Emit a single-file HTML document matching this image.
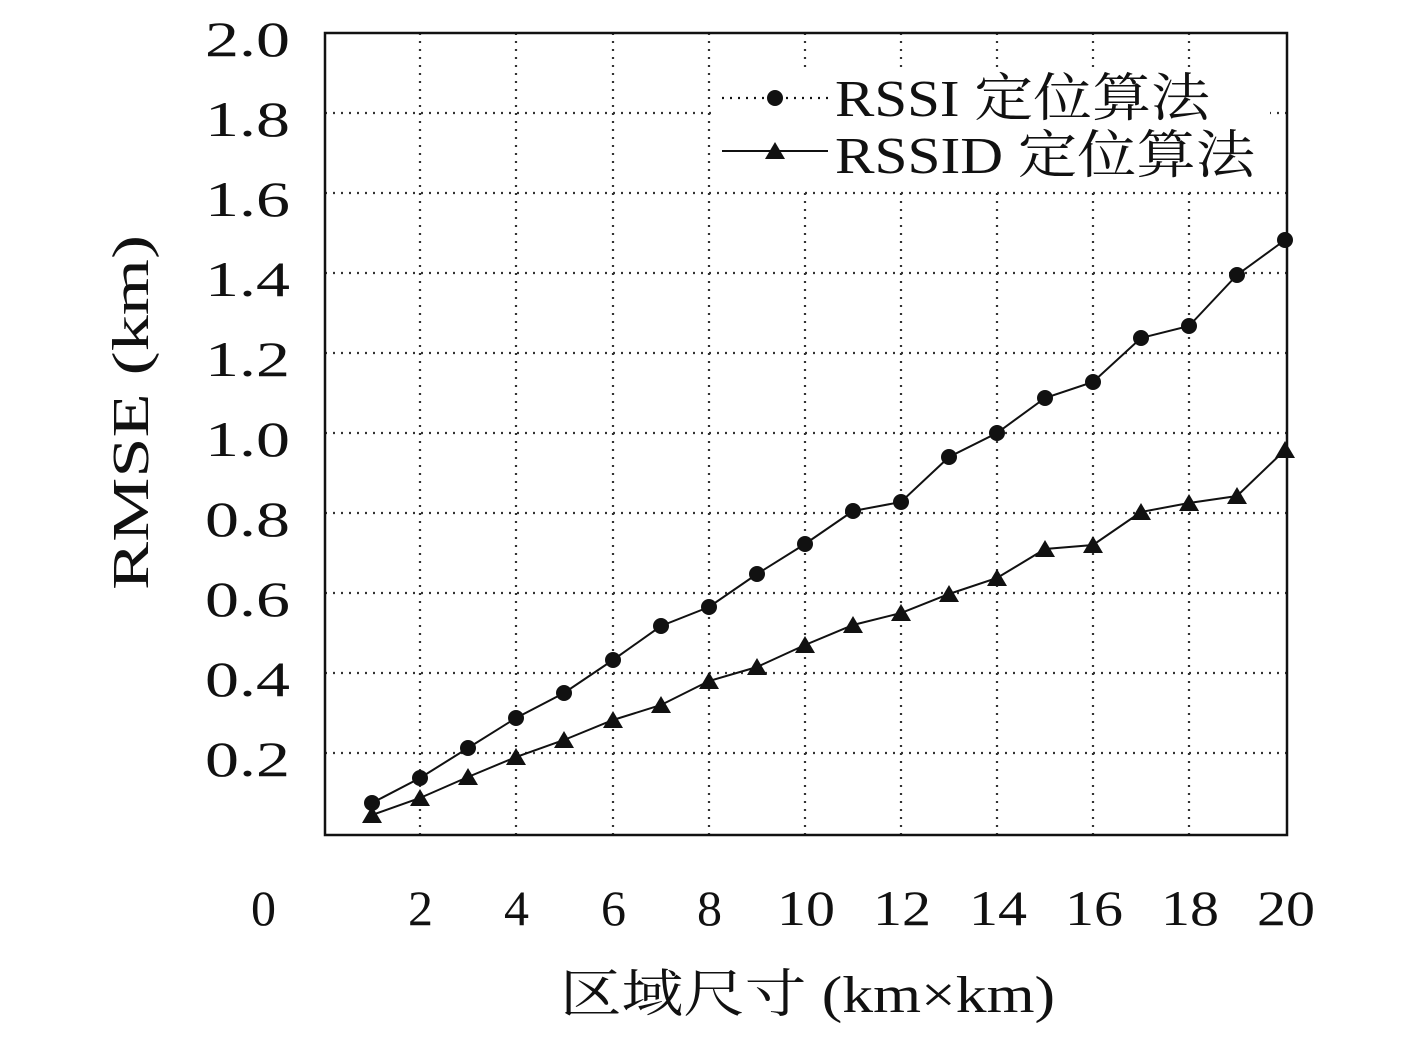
<!DOCTYPE html>
<html><head><meta charset="utf-8"><style>
html,body{margin:0;padding:0;background:#fff;}
svg text{font-family:"Liberation Serif","Noto Serif CJK SC",serif;fill:#111;}
</style></head><body>
<svg width="1417" height="1039" viewBox="0 0 1417 1039" xmlns="http://www.w3.org/2000/svg">
<g stroke="#333" stroke-width="2.2" stroke-dasharray="2,6" fill="none">
<line x1="325" y1="113" x2="1287" y2="113"/>
<line x1="325" y1="193" x2="1287" y2="193"/>
<line x1="325" y1="273" x2="1287" y2="273"/>
<line x1="325" y1="353" x2="1287" y2="353"/>
<line x1="325" y1="433" x2="1287" y2="433"/>
<line x1="325" y1="513" x2="1287" y2="513"/>
<line x1="325" y1="593" x2="1287" y2="593"/>
<line x1="325" y1="673" x2="1287" y2="673"/>
<line x1="325" y1="753" x2="1287" y2="753"/>
<line x1="420" y1="33" x2="420" y2="835"/>
<line x1="516" y1="33" x2="516" y2="835"/>
<line x1="613" y1="33" x2="613" y2="835"/>
<line x1="709" y1="33" x2="709" y2="835"/>
<line x1="805" y1="33" x2="805" y2="835"/>
<line x1="901" y1="33" x2="901" y2="835"/>
<line x1="997" y1="33" x2="997" y2="835"/>
<line x1="1093" y1="33" x2="1093" y2="835"/>
<line x1="1189" y1="33" x2="1189" y2="835"/>
</g>
<rect x="325" y="33" width="962" height="802" fill="none" stroke="#111" stroke-width="2.5"/>
<g font-size="50" lengthAdjust="spacingAndGlyphs">
<text x="205" y="56" textLength="85" lengthAdjust="spacingAndGlyphs">2.0</text><text x="205" y="136" textLength="85" lengthAdjust="spacingAndGlyphs">1.8</text><text x="205" y="216" textLength="85" lengthAdjust="spacingAndGlyphs">1.6</text>
<text x="205" y="296" textLength="85" lengthAdjust="spacingAndGlyphs">1.4</text><text x="205" y="376" textLength="85" lengthAdjust="spacingAndGlyphs">1.2</text><text x="205" y="456" textLength="85" lengthAdjust="spacingAndGlyphs">1.0</text>
<text x="205" y="536" textLength="85" lengthAdjust="spacingAndGlyphs">0.8</text><text x="205" y="616" textLength="85" lengthAdjust="spacingAndGlyphs">0.6</text><text x="205" y="696" textLength="85" lengthAdjust="spacingAndGlyphs">0.4</text>
<text x="205" y="776" textLength="85" lengthAdjust="spacingAndGlyphs">0.2</text>
</g>
<g font-size="50">
<text x="251" y="925" textLength="25" lengthAdjust="spacingAndGlyphs">0</text><text x="408" y="925" textLength="25" lengthAdjust="spacingAndGlyphs">2</text><text x="504" y="925" textLength="25" lengthAdjust="spacingAndGlyphs">4</text>
<text x="601" y="925" textLength="25" lengthAdjust="spacingAndGlyphs">6</text><text x="697" y="925" textLength="25" lengthAdjust="spacingAndGlyphs">8</text>
<text x="777" y="925" textLength="58" lengthAdjust="spacingAndGlyphs">10</text><text x="873" y="925" textLength="58" lengthAdjust="spacingAndGlyphs">12</text><text x="969" y="925" textLength="58" lengthAdjust="spacingAndGlyphs">14</text>
<text x="1065" y="925" textLength="58" lengthAdjust="spacingAndGlyphs">16</text><text x="1161" y="925" textLength="58" lengthAdjust="spacingAndGlyphs">18</text><text x="1257" y="925" textLength="58" lengthAdjust="spacingAndGlyphs">20</text>
<text x="560" y="1012" font-size="52" textLength="495" lengthAdjust="spacingAndGlyphs">区域尺寸 (km×km)</text>
<text transform="translate(148,590) rotate(-90)" font-size="52" textLength="355" lengthAdjust="spacingAndGlyphs">RMSE (km)</text>
</g>
<g fill="none" stroke="#111" stroke-width="2">
<polyline points="372,803 420,778 468,748 516,718 564,693 613,660 661,626 709,607 757,574 805,544 853,511 901,502 949,457 997,433 1045,398 1093,382 1141,338 1189,326 1237,275 1285,240"/>
<polyline points="372,815 420,798 468,777 516,757 564,740 613,720 661,705 709,681 757,667 805,645 853,625 901,613 949,594 997,578 1045,549 1093,545 1141,512 1189,503 1237,496 1285,450"/>
</g>
<g fill="#111">
<circle cx="372" cy="803" r="8"/><circle cx="420" cy="778" r="8"/><circle cx="468" cy="748" r="8"/><circle cx="516" cy="718" r="8"/><circle cx="564" cy="693" r="8"/><circle cx="613" cy="660" r="8"/><circle cx="661" cy="626" r="8"/><circle cx="709" cy="607" r="8"/><circle cx="757" cy="574" r="8"/><circle cx="805" cy="544" r="8"/><circle cx="853" cy="511" r="8"/><circle cx="901" cy="502" r="8"/><circle cx="949" cy="457" r="8"/><circle cx="997" cy="433" r="8"/><circle cx="1045" cy="398" r="8"/><circle cx="1093" cy="382" r="8"/><circle cx="1141" cy="338" r="8"/><circle cx="1189" cy="326" r="8"/><circle cx="1237" cy="275" r="8"/><circle cx="1285" cy="240" r="8"/>
</g>
<g fill="#111">
<path d="M372,806 l-10,17 h20z M420,789 l-10,17 h20z M468,768 l-10,17 h20z M516,748 l-10,17 h20z M564,731 l-10,17 h20z M613,711 l-10,17 h20z M661,696 l-10,17 h20z M709,672 l-10,17 h20z M757,658 l-10,17 h20z M805,636 l-10,17 h20z M853,616 l-10,17 h20z M901,604 l-10,17 h20z M949,585 l-10,17 h20z M997,569 l-10,17 h20z M1045,540 l-10,17 h20z M1093,536 l-10,17 h20z M1141,503 l-10,17 h20z M1189,494 l-10,17 h20z M1237,487 l-10,17 h20z M1285,441 l-10,17 h20z"/>
</g>
<rect x="715" y="70" width="555" height="120" fill="#fff"/>
<line x1="722" y1="98" x2="828" y2="98" stroke="#111" stroke-width="2.2" stroke-dasharray="2,6"/>
<circle cx="775" cy="98" r="8" fill="#111"/>
<line x1="722" y1="151" x2="828" y2="151" stroke="#111" stroke-width="2"/>
<path d="M775,142 l-10,17 h20z" fill="#111"/>
<g font-size="52">
<text x="835" y="116" textLength="375" lengthAdjust="spacingAndGlyphs">RSSI 定位算法</text>
<text x="835" y="173" textLength="420" lengthAdjust="spacingAndGlyphs">RSSID 定位算法</text>
</g>
</svg>
</body></html>
